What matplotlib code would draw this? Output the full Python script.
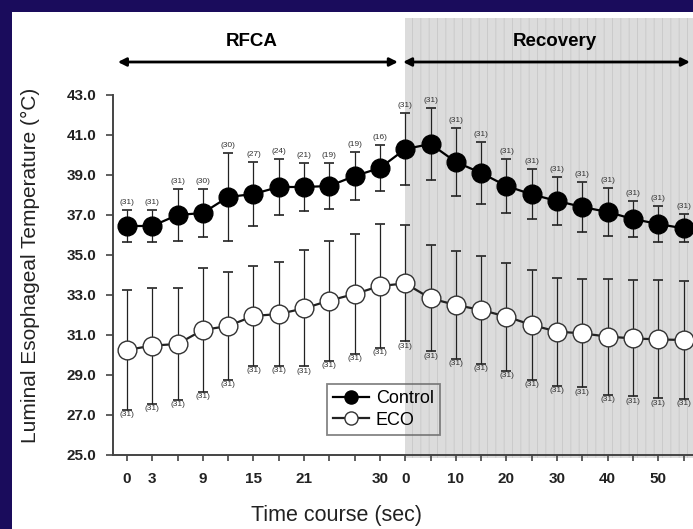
import matplotlib
matplotlib.use('Agg')
import matplotlib.pyplot as plt
from matplotlib.patches import Rectangle

# time points: RFCA 0-30 s (every 3 s), recovery 0-55 s (every 5 s)
rfca_times = [0, 3, 6, 9, 12, 15, 18, 21, 24, 27, 30]
recovery_times = [0, 5, 10, 15, 20, 25, 30, 35, 40, 45, 50, 55]
shown_ticks = ['0', '3', '', '9', '', '15', '', '21', '', '', '30',
               '0', '', '10', '', '20', '', '30', '', '40', '', '50', '']

control_mean = [36.45, 36.45, 37.0, 37.1, 37.9, 38.05, 38.4, 38.4, 38.45, 38.95, 39.35,
                40.3, 40.55, 39.65, 39.1, 38.45, 38.03, 37.7, 37.4, 37.15, 36.8, 36.55, 36.33]
control_sd = [0.8, 0.8, 1.3, 1.2, 2.2, 1.6, 1.4, 1.2, 1.15, 1.2, 1.15,
              1.8, 1.8, 1.7, 1.55, 1.35, 1.25, 1.2, 1.25, 1.2, 0.9, 0.9, 0.7]
control_n = [31, 31, 31, 30, 30, 27, 24, 21, 19, 19, 16,
             31, 31, 31, 31, 31, 31, 31, 31, 31, 31, 31, 31]

eco_mean = [30.25, 30.47, 30.55, 31.25, 31.45, 31.95, 32.05, 32.33, 32.72, 33.05, 33.45,
            33.58, 32.83, 32.5, 32.25, 31.92, 31.5, 31.17, 31.08, 30.92, 30.83, 30.78, 30.75]
eco_sd = [3.0, 2.9, 2.8, 3.1, 2.7, 2.5, 2.6, 2.9, 3.0, 3.0, 3.1,
          2.9, 2.65, 2.7, 2.7, 2.7, 2.75, 2.7, 2.7, 2.9, 2.9, 2.95, 2.95]
eco_n = [31] * 23

x = list(range(len(rfca_times) + len(recovery_times)))

plt.rcParams['font.family'] = ['Liberation Sans', 'DejaVu Sans']
plt.rcParams['hatch.linewidth'] = 0.6

fig = plt.figure(figsize=(6.93, 5.29), dpi=100)
fig.patch.set_facecolor('#1a0c5c')
fig.add_artist(Rectangle((12 / 693, 0), 1, 517 / 529, transform=fig.transFigure,
                         facecolor='white', edgecolor='none', zorder=-10))

ax = fig.add_axes([113 / 693, 74 / 529, 580 / 693, 360 / 529])
ax.set_facecolor('none')
ax.set_xlim(-0.55, 22.37)
ax.set_ylim(25, 43)

# recovery shading
shade = Rectangle((10.98, 24.85), 20, 22.0, facecolor='#dcdcdc', edgecolor='#c8c8c8',
                  hatch='||', linewidth=0, clip_on=False, zorder=0)
ax.add_patch(shade)

# error bars
ax.errorbar(x, control_mean, yerr=control_sd, fmt='none', ecolor='#222222',
            elinewidth=0.9, capsize=3.5, capthick=1.2, zorder=2)
ax.errorbar(x, eco_mean, yerr=eco_sd, fmt='none', ecolor='#222222',
            elinewidth=0.9, capsize=3.5, capthick=1.2, zorder=2)

# series
ax.plot(x, control_mean, '-o', color='black', lw=1.6, ms=13.5, mfc='black', mec='black',
        label='Control', zorder=4)
ax.plot(x, eco_mean, '-o', color='#222222', lw=1.6, ms=13.5, mfc='white', mec='#333333',
        mew=1.0, label='ECO', zorder=4)

# sample sizes
for xi, m, s, n in zip(x, control_mean, control_sd, control_n):
    ax.annotate('(%d)' % n, (xi, m + s), xytext=(0, 3), textcoords='offset points',
                ha='center', va='bottom', fontsize=6, color='#333333', zorder=5)
for xi, m, s, n in zip(x, eco_mean, eco_sd, eco_n):
    ax.annotate('(%d)' % n, (xi, m - s), xytext=(0, -1), textcoords='offset points',
                ha='center', va='top', fontsize=6, color='#333333', zorder=5)

# phase arrows
arrow = dict(arrowstyle='<|-|>', lw=2, color='black', mutation_scale=12, shrinkA=0, shrinkB=0)
ax.annotate('', xy=(10.71, 44.65), xytext=(-0.36, 44.65), arrowprops=arrow,
            annotation_clip=False)
ax.annotate('', xy=(22.25, 44.65), xytext=(10.91, 44.65), arrowprops=arrow,
            annotation_clip=False)
ax.text(4.95, 45.65, 'RFCA', ha='center', va='center', fontsize=13.5, fontweight='bold')
ax.text(16.9, 45.65, 'Recovery', ha='center', va='center', fontsize=13.5, fontweight='bold')

# axes styling
ax.spines['top'].set_visible(False)
ax.spines['right'].set_visible(False)
for sp in ['left', 'bottom']:
    ax.spines[sp].set_color('#444444')
    ax.spines[sp].set_linewidth(1.4)
    ax.spines[sp].set_zorder(6)

yt = [25, 27, 29, 31, 33, 35, 37, 39, 41, 43]
ax.set_xticks(x)
ax.set_xticklabels(shown_ticks)
ax.set_yticks(yt)
ax.set_yticklabels(['%.1f' % v for v in yt])
ax.tick_params(axis='x', length=4, width=1.2, color='#444444', pad=8, labelsize=11)
ax.tick_params(axis='y', length=5, width=1.2, color='#444444', pad=7, labelsize=11)
for lab in ax.get_xticklabels() + ax.get_yticklabels():
    lab.set_fontweight('bold')
    lab.set_color('#222222')

ax.set_ylabel('Luminal Esophageal Temperature (°C)', fontsize=15, color='#222222')
ax.yaxis.set_label_coords(-0.125, 0.528)
ax.set_xlabel('Time course (sec)', fontsize=15.5, color='#222222')
ax.xaxis.set_label_coords(0.385, -0.14)

leg = ax.legend(loc='lower left', bbox_to_anchor=(0.369, 0.056), borderaxespad=0,
                fontsize=13, markerscale=0.7, handlelength=2.0, handletextpad=0.35,
                borderpad=0.35, labelspacing=0.25,
                facecolor='none', edgecolor='#666666', fancybox=False)
leg.get_frame().set_linewidth(1.3)

plt.savefig('out.png', dpi=100)
